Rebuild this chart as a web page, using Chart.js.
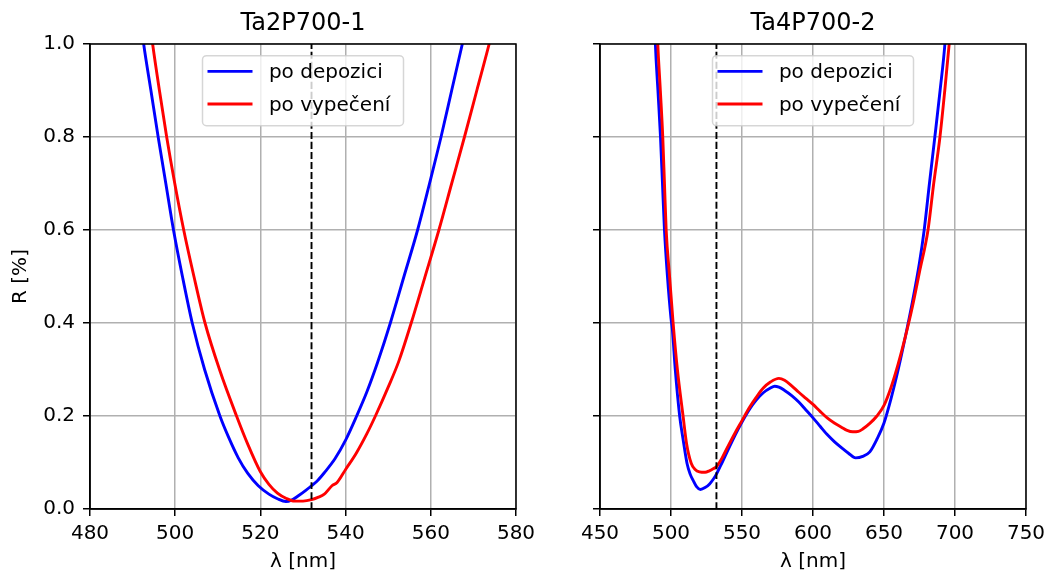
<!DOCTYPE html>
<html>
<head>
<meta charset="utf-8">
<script src="https://cdn.jsdelivr.net/npm/chart.js@4"></script>
<style>
    html, body { margin: 0; padding: 0; background: #fff; }
    .panel { position: absolute; top: 0; height: 576px; }
</style>
</head>
<body>
<div class="panel" style="left:0;width:560px"><canvas id="ta2" width="560" height="576"></canvas></div>
<div class="panel" style="left:520px;width:527px"><canvas id="ta4" width="527" height="576"></canvas></div>
<script>
const legendLabels = ['po depozici', 'po vypečení']
const seriesColors = ['#0000ff', '#ff0000']
const laserLine = 532

const rTicks = [0, 0.2, 0.4, 0.6, 0.8, 1.0]
const ta2Ticks = [480, 500, 520, 540, 560, 580]
const ta4Ticks = [450, 500, 550, 600, 650, 700, 750]

// Ta2P700-1
const ta2DepX = [491.5, 492.6, 494.3, 496.0, 497.8, 499.6, 501.7, 504.0, 506.9, 510.5, 512.5, 514.8, 517, 519.5, 522, 524, 526, 527.3, 529, 530.5, 532, 533.5, 535, 537.5, 540, 542.6, 545, 547.5, 550.5, 553.7, 556.9, 559.7, 562.4, 564.9, 567.4, 568.5]
const ta2DepR = [1.08, 1.0, 0.9, 0.8, 0.7, 0.6, 0.5, 0.4, 0.3, 0.2, 0.155, 0.11, 0.077, 0.05, 0.032, 0.022, 0.016, 0.019, 0.029, 0.039, 0.05, 0.062, 0.078, 0.108, 0.148, 0.2, 0.252, 0.315, 0.4, 0.5, 0.6, 0.7, 0.8, 0.9, 1.0, 1.045]
const ta2BakeX = [494, 494.7, 496.3, 498, 499.9, 502, 504.4, 507, 510.4, 514.4, 517, 520, 522, 524, 526, 528, 530, 532, 533.5, 535, 536.8, 538, 540, 542.5, 545, 547, 550, 552.5, 555.4, 558.5, 561.9, 564.9, 567.9, 570.8, 573.7, 574.5]
const ta2BakeR = [1.05, 1.0, 0.9, 0.8, 0.7, 0.6, 0.5, 0.4, 0.3, 0.2, 0.14, 0.08, 0.053, 0.034, 0.023, 0.017, 0.017, 0.02, 0.025, 0.032, 0.05, 0.057, 0.085, 0.12, 0.162, 0.2, 0.262, 0.318, 0.4, 0.495, 0.6, 0.7, 0.8, 0.9, 1.0, 1.03]

// Ta4P700-2
const ta4DepX = [488.5, 489, 490.8, 492.6, 494, 495.4, 497.5, 500, 501, 503, 506.1, 508.5, 511.3, 513.5, 515.5, 518, 520.7, 524, 527.2, 530, 532, 536, 540, 545, 550, 555, 560, 565, 570, 573, 576, 580, 585, 590, 595, 600, 605, 610, 615, 620, 625, 630, 635, 640, 645, 650, 655, 660, 665, 670, 675, 678.3, 682, 685.8, 689.5, 692.9, 694]
const ta4DepR = [1.05, 1.0, 0.9, 0.8, 0.7, 0.6, 0.5, 0.41, 0.385, 0.3, 0.2, 0.15, 0.098, 0.075, 0.062, 0.048, 0.042, 0.046, 0.054, 0.065, 0.075, 0.1, 0.126, 0.158, 0.187, 0.213, 0.234, 0.25, 0.26, 0.264, 0.262, 0.255, 0.244, 0.23, 0.213, 0.196, 0.178, 0.16, 0.145, 0.132, 0.12, 0.11, 0.113, 0.123, 0.15, 0.185, 0.238, 0.3, 0.37, 0.445, 0.53, 0.6, 0.7, 0.8, 0.9, 1.0, 1.05]
const ta4BakeX = [490, 490.7, 492.5, 494.2, 495.4, 496.6, 499, 501.5, 504.5, 508.5, 511, 514.3, 517, 520, 524, 527, 530, 532, 536, 540, 545, 550, 555, 560, 565, 570, 576, 580, 585, 590, 595, 600, 605, 610, 615, 620, 624, 628, 632, 635, 640, 645, 650, 655, 660, 665, 670, 675, 681, 685, 689.4, 692.8, 695.9, 697]
const ta4BakeR = [1.06, 1.0, 0.9, 0.8, 0.7, 0.6, 0.5, 0.4, 0.3, 0.2, 0.14, 0.098, 0.085, 0.08, 0.079, 0.082, 0.087, 0.091, 0.11, 0.134, 0.163, 0.19, 0.217, 0.24, 0.26, 0.273, 0.281, 0.277, 0.265, 0.251, 0.238, 0.225, 0.21, 0.196, 0.185, 0.176, 0.169, 0.166, 0.167, 0.172, 0.184, 0.2, 0.223, 0.262, 0.312, 0.37, 0.435, 0.51, 0.6, 0.7, 0.8, 0.9, 1.0, 1.04]

const fontFamily = 'DejaVu Sans'
const textSize = 20
Chart.defaults.font.family = fontFamily
Chart.defaults.color = '#000'

function points(xs, ys) {
    return xs.map((x, i) => ({ x, y: ys[i] }))
}

function noPadding(scale) {
    scale.paddingLeft = 0
    scale.paddingRight = 0
    scale.paddingTop = 0
    scale.paddingBottom = 0
}

// frame, title and matplotlib-like legend box
function panelPlugin(title) {
    return {
        id: 'panel',
        afterDatasetsDraw({ ctx, chartArea: a }) {
            ctx.save()
            ctx.strokeStyle = '#000'
            ctx.lineWidth = 1.5
            ctx.strokeRect(a.left, a.top, a.right - a.left, a.bottom - a.top)
            ctx.restore()
        },
        afterDraw({ ctx, chartArea: a }) {
            const cx = (a.left + a.right) / 2

            ctx.save()
            ctx.fillStyle = '#000'
            ctx.font = `24px "${fontFamily}"`
            ctx.textAlign = 'center'
            ctx.textBaseline = 'middle'
            ctx.fillText(title, cx, 23.5)

            ctx.font = `${textSize}px "${fontFamily}"`
            const w = 201
            const h = 70
            const x0 = cx - w / 2
            const y0 = a.top + 11.7

            ctx.beginPath()
            ctx.roundRect(x0, y0, w, h, 4)
            ctx.fillStyle = 'rgba(255,255,255,0.8)'
            ctx.fill()
            ctx.strokeStyle = 'rgba(204,204,204,0.8)'
            ctx.lineWidth = 1.5
            ctx.stroke()

            legendLabels.forEach((label, i) => {
                const y = y0 + 15.7 + i * 32.6
                ctx.strokeStyle = seriesColors[i]
                ctx.lineWidth = 2.9
                ctx.beginPath()
                ctx.moveTo(x0 + 5, y)
                ctx.lineTo(x0 + 50, y)
                ctx.stroke()

                ctx.fillStyle = '#000'
                ctx.textAlign = 'left'
                ctx.textBaseline = 'alphabetic'
                ctx.fillText(label, x0 + 66.4, y + 6.8)
            })
            ctx.restore()
        }
    }
}

function makeChart(id, { title, xTicks, dep, bake, yAxisWidth, padRight, showY }) {
    const grid = { color: '#b0b0b0', lineWidth: 1.5, tickColor: '#000', tickWidth: 1.5, tickLength: 7 }
    const border = { color: '#000', width: 1.5 }
    const tickFont = { size: textSize }

    return new Chart(document.getElementById(id), {
        type: 'line',
        data: {
            datasets: [
                {
                    data: [{ x: laserLine, y: 0 }, { x: laserLine, y: 1 }],
                    borderColor: '#000',
                    borderWidth: 1.9,
                    borderDash: [7, 3],
                    order: 0,
                },
                { label: legendLabels[0], data: dep, borderColor: seriesColors[0], order: 2 },
                { label: legendLabels[1], data: bake, borderColor: seriesColors[1], order: 1 },
            ]
        },
        options: {
            responsive: false,
            animation: false,
            devicePixelRatio: 1,
            layout: { padding: { left: 0, right: padRight, top: 44, bottom: 0 } },
            elements: {
                point: { radius: 0 },
                line: { borderWidth: 2.9, cubicInterpolationMode: 'monotone', fill: false },
            },
            plugins: {
                legend: { display: false },
                tooltip: { enabled: false },
                title: { display: false },
            },
            scales: {
                x: {
                    type: 'linear',
                    min: xTicks[0],
                    max: xTicks[xTicks.length - 1],
                    afterBuildTicks: s => { s.ticks = xTicks.map(value => ({ value })) },
                    afterFit: s => { s.height = 67; noPadding(s) },
                    grid,
                    border,
                    ticks: { font: tickFont, padding: 6, maxRotation: 0, autoSkip: false, callback: v => String(v) },
                    title: { display: true, text: 'λ [nm]', font: tickFont, padding: { top: 0, bottom: 2 } },
                },
                y: {
                    min: 0,
                    max: 1,
                    afterBuildTicks: s => { s.ticks = rTicks.map(value => ({ value })) },
                    afterFit: s => { s.width = yAxisWidth; noPadding(s) },
                    grid,
                    border,
                    ticks: { display: showY, font: tickFont, padding: 8, callback: v => v.toFixed(1) },
                    title: { display: showY, text: 'R [%]', font: tickFont, padding: { top: 9, bottom: 0 } },
                },
            },
        },
        plugins: [panelPlugin(title)],
    })
}

makeChart('ta2', {
    title: 'Ta2P700-1',
    xTicks: ta2Ticks,
    dep: points(ta2DepX, ta2DepR),
    bake: points(ta2BakeX, ta2BakeR),
    yAxisWidth: 90,
    padRight: 44,
    showY: true,
})

makeChart('ta4', {
    title: 'Ta4P700-2',
    xTicks: ta4Ticks,
    dep: points(ta4DepX, ta4DepR),
    bake: points(ta4BakeX, ta4BakeR),
    yAxisWidth: 80,
    padRight: 21,
    showY: false,
})
</script>
</body>
</html>
